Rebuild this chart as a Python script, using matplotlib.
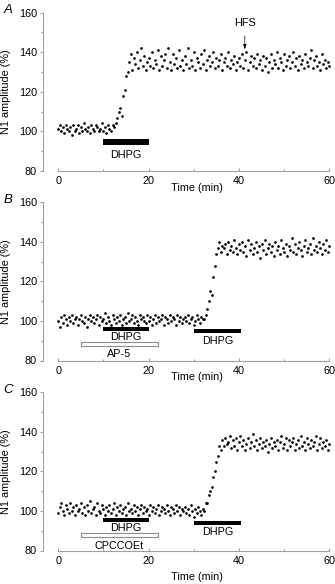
import numpy as np
import matplotlib
matplotlib.use("Agg")
import matplotlib.pyplot as plt

plt.rcParams["font.family"] = ["Liberation Sans", "DejaVu Sans"]

# sampling: one response every 20 s
SAMPLE_MIN = 20 / 60

# panel A: DHPG alone, then HFS
a_base = [101, 103, 100, 102, 99, 103, 101, 100, 102, 98, 103, 100,
          101, 103, 99, 102, 100, 104, 101, 100, 102, 99, 103, 101,
          100, 103, 102, 100, 101, 104, 100, 102, 99, 103, 101, 100,
          103, 102]
a_rise = [104, 107, 110, 112, 108, 118, 121, 128, 130, 135]
a_plat = [139, 131, 137, 134, 140, 132, 136, 142, 133, 138, 131, 135,
          137, 133, 140, 132, 136, 134, 141, 131, 138, 133, 136, 139,
          132, 142, 135, 131, 139, 134, 137, 132, 141, 133, 136, 131,
          138, 134, 142, 132, 136, 133, 140, 131, 137, 135, 132, 139,
          134, 141, 131, 136, 138, 133, 135, 140, 132, 137, 133, 136,
          139, 131, 135, 137, 133, 140, 132, 136, 134, 138, 131, 135,
          137, 133, 139, 132, 136, 140, 131, 135, 138, 133, 137, 132,
          139, 134, 136, 131, 138, 133, 137, 130, 135, 139, 132, 136,
          134, 140, 132, 137, 135, 131, 139, 133, 136, 138, 132, 135,
          140, 133, 137, 131, 138, 134, 136, 132, 139, 135, 133, 137,
          141, 132, 136, 138, 133, 135, 131, 139, 134, 136, 132, 135,
          133]

# panel B: DHPG in AP-5, then DHPG
b_base = [100, 97, 102, 99, 103, 101, 98, 102, 100, 103, 99, 101,
          102, 98, 101, 103, 100, 99, 102, 97, 101, 103, 100, 102,
          99, 101, 103, 98, 102, 100, 101, 104, 99, 102, 100, 98,
          103, 101, 99, 102, 100, 103, 98, 101, 102, 99, 104, 100,
          101, 103, 99, 102, 100, 98, 103, 101, 102, 100, 99, 103,
          100, 102, 98, 101, 103, 99, 102, 100, 101, 103, 98, 102,
          101, 99, 103, 100, 102, 101, 98, 103, 100, 102, 99, 101,
          102, 100, 103, 99, 101, 102, 98, 100, 103, 101, 99, 102,
          101]
b_rise = [101, 103, 106, 110, 115, 113, 122, 128, 134, 137]
b_plat = [140, 135, 138, 137, 139, 134, 140, 136, 138, 135, 141, 137,
          134, 139, 136, 140, 135, 138, 133, 141, 136, 139, 134, 137,
          140, 135, 138, 132, 139, 136, 141, 134, 137, 139, 135, 138,
          133, 140, 136, 138, 134, 141, 137, 135, 139, 133, 138, 136,
          142, 135, 139, 134, 137, 140, 136, 133, 138, 141, 135, 137,
          139, 134, 142, 136, 138, 135, 140, 137, 134, 139, 136, 141,
          135, 138]

# panel C: DHPG in CPCCOEt, then DHPG
c_base = [99, 102, 104, 100, 98, 103, 101, 99, 104, 100, 102, 98,
          103, 100, 101, 104, 99, 102, 98, 103, 100, 105, 99, 101,
          102, 98, 104, 100, 99, 103, 101, 98, 102, 100, 103, 99,
          101, 104, 98, 102, 100, 103, 99, 101, 102, 98, 104, 100,
          101, 99, 103, 100, 102, 98, 101, 103, 99, 102, 100, 101,
          98, 103, 100, 102, 99, 101, 103, 98, 100, 102, 101, 99,
          103, 100, 98, 102, 101, 99, 103, 100, 102, 98, 101, 100,
          102, 99, 101, 98, 103, 100, 97, 101, 99, 102, 100, 98,
          101, 100, 104]
c_rise = [104, 108, 110, 112, 117, 120, 125, 128, 133]
c_plat = [131, 136, 133, 137, 134, 135, 138, 132, 136, 133, 137, 131,
          135, 138, 133, 136, 131, 134, 137, 132, 135, 139, 133, 136,
          131, 134, 137, 132, 135, 133, 136, 130, 134, 137, 132, 135,
          133, 136, 131, 135, 138, 132, 134, 137, 131, 136, 133, 135,
          137, 131, 134, 136, 132, 138, 133, 135, 131, 137, 134, 132,
          136, 133, 135, 138, 131, 134, 137, 132, 135, 133, 136, 131,
          134]

# drug application bars: (start, end, level, thickness, label, label level)
solid_bars = {
    "A": [(10, 20, 94.5, 3.0, "DHPG", 88)],
    "B": [(10, 20, 95.9, 1.8, "DHPG", 92.0), (30, 40.5, 94.8, 2.0, "DHPG", 90.0)],
    "C": [(10, 20, 95.5, 1.8, "DHPG", 91.3), (30, 40.5, 94.0, 2.0, "DHPG", 89.3)],
}
open_bars = {
    "A": [],
    "B": [(5, 22, 88.4, 2.2, "AP-5", 83.3)],
    "C": [(5, 22, 87.8, 2.2, "CPCCOEt", 82.1)],
}

panels = {
    "A": a_base + a_rise + a_plat,
    "B": b_base + b_rise + b_plat,
    "C": c_base + c_rise + c_plat,
}

W, H = 335, 584
fig = plt.figure(figsize=(W / 100, H / 100), dpi=100)

axes_top = {"A": 12.7, "B": 202.3, "C": 392.3}
axes_h = 158.2
left_px, width_px = 58.3, 271.0
time_label_offset = {"A": 17.5, "B": 17.0, "C": 27.0}

spine_col = "#a0a0a0"
fs = 7.8

for key, vals in panels.items():
    top = axes_top[key]
    ax = fig.add_axes([left_px / W, 1 - (top + axes_h) / H, width_px / W, axes_h / H])
    vals = np.array(vals, dtype=float)
    t = np.arange(len(vals)) * SAMPLE_MIN
    ax.scatter(t, vals, s=3.8, color="black", linewidths=0, clip_on=False)

    for x0, x1, y, h, lab, ly in solid_bars[key]:
        ax.broken_barh([(x0, x1 - x0)], (y - h / 2, h), facecolors="black")
        ax.text((x0 + x1) / 2, ly, lab, ha="center", va="center", fontsize=fs)
    for x0, x1, y, h, lab, ly in open_bars[key]:
        ax.broken_barh([(x0, x1 - x0)], (y - h / 2, h), facecolors="white",
                       edgecolors="#8c8c8c", linewidth=0.8)
        ax.text((x0 + x1) / 2, ly, lab, ha="center", va="center", fontsize=fs)

    if key == "A":
        ax.annotate("HFS", xy=(41.3, 141.5), xytext=(41.3, 155), fontsize=fs,
                    ha="center", va="center",
                    arrowprops=dict(arrowstyle="-|>,head_length=0.35,head_width=0.12",
                                    color="black", lw=0.5, shrinkA=4, shrinkB=0))

    ax.set_xlim(0, 60)
    ax.set_ylim(80, 160)
    ax.spines["top"].set_visible(False)
    ax.spines["right"].set_visible(False)
    ax.spines["left"].set_position(("outward", 10.8))
    ax.spines["left"].set_bounds(80, 160)
    ax.spines["bottom"].set_bounds(0, 60)
    for s in ("left", "bottom"):
        ax.spines[s].set_color(spine_col)
        ax.spines[s].set_linewidth(0.8)

    ax.set_xticks([0, 20, 40, 60])
    ax.set_xticks([10, 30, 50], minor=True)
    ax.set_yticks([80, 100, 120, 140, 160])
    ax.set_yticks([90, 110, 130, 150], minor=True)
    ax.tick_params(axis="x", which="both", direction="in", colors=spine_col,
                   labelcolor="black", labelsize=fs, pad=4)
    ax.tick_params(axis="x", which="major", length=2.5, width=0.8)
    ax.tick_params(axis="x", which="minor", length=1.5, width=0.8)
    ax.tick_params(axis="y", which="both", direction="out", colors=spine_col,
                   labelcolor="black", labelsize=fs, pad=2)
    ax.tick_params(axis="y", which="major", length=2.5, width=0.8)
    ax.tick_params(axis="y", which="minor", length=1.5, width=0.8)
    ax.set_facecolor("none")

    fig.text((left_px + 139) / W, 1 - (top + axes_h + time_label_offset[key]) / H,
             "Time (min)", ha="center", va="center", fontsize=fs)
    fig.text(6 / W, 1 - (top + axes_h / 2) / H, "N1 amplitude (%)",
             rotation=90, ha="center", va="center", fontsize=fs)
    fig.text(8 / W, 1 - (top - 2.5) / H, key, ha="center", va="center",
             fontsize=9.5, style="italic")

fig.savefig("out.png", dpi=100)
